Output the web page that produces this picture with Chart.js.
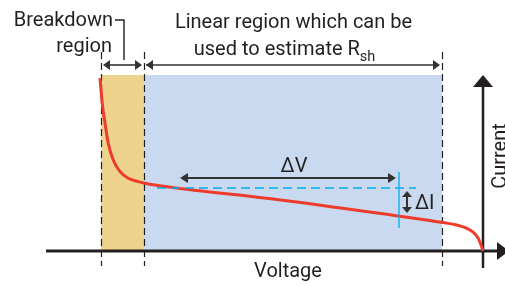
<!DOCTYPE html>
<html>
<head>
<meta charset="utf-8">
<script src="https://cdn.jsdelivr.net/npm/chart.js@4.4.1/dist/chart.umd.min.js"></script>
<style>
  html, body { margin: 0; padding: 0; background: #fff; }
  #wrap { width: 505px; height: 286px; position: relative; }
</style>
</head>
<body>
<div id="wrap"><canvas id="ivChart"></canvas></div>
<script>
// I-V curve (arbitrary units: voltage on x, current on y)
var curveV = [-19.15, -19.04, -18.9, -18.74, -18.49, -18.15, -17.74, -17.24, -16.9, -16.4, -15.15, -10.5, -4.25, -2.65, -1.99, -1.32, -0.82, -0.49, -0.24, -0.07, 0];
var curveI = [8.64, 7.4, 6.4, 5.4, 4.55, 3.97, 3.64, 3.47, 3.39, 3.3, 3.13, 2.6, 1.75, 1.52, 1.42, 1.3, 1.14, 0.94, 0.64, 0.22, 0];

// region edges: breakdown start, linear start, linear end
var regionEdges = [-19.1, -16.95, -2.05];
var regionTop = 8.8;

// delta V / delta I construction
var deltaV = [-15.15, -4.35];
var deltaVLevel = 3.65;
var refLineV = [-16.3, -3.35];
var refLineI = 3.15;
var deltaIMark = -4.2;
var deltaIRange = [3.0, 1.9];

var labels = {
  breakdown: ["Breakdown", "region"],
  linear: ["Linear region which can be", "used to estimate R"],
  sub: "sh",
  xAxis: "Voltage",
  yAxis: "Current",
  dV: "\u0394V",
  dI: "\u0394I"
};

var ink = "#231f20";
var font = "Roboto";
var big = "20px ";
var small = "14.5px ";

function arrow(ctx, x1, y1, x2, y2, headStart, headEnd, len, half) {
  var a = Math.atan2(y2 - y1, x2 - x1);
  var sx = x1, sy = y1, ex = x2, ey = y2;
  if (headStart) { sx += Math.cos(a) * len * 0.8; sy += Math.sin(a) * len * 0.8; }
  if (headEnd) { ex -= Math.cos(a) * len * 0.8; ey -= Math.sin(a) * len * 0.8; }
  ctx.beginPath();
  ctx.moveTo(sx, sy);
  ctx.lineTo(ex, ey);
  ctx.stroke();
  function head(tx, ty, ang) {
    ctx.beginPath();
    ctx.moveTo(tx, ty);
    ctx.lineTo(tx - Math.cos(ang) * len + Math.sin(ang) * half, ty - Math.sin(ang) * len - Math.cos(ang) * half);
    ctx.lineTo(tx - Math.cos(ang) * len - Math.sin(ang) * half, ty - Math.sin(ang) * len + Math.cos(ang) * half);
    ctx.closePath();
    ctx.fill();
  }
  if (headEnd) head(x2, y2, a);
  if (headStart) head(x1, y1, a + Math.PI);
}

var diagram = {
  id: "diagram",
  beforeDatasetsDraw: function (chart) {
    var ctx = chart.ctx, xs = chart.scales.x, ys = chart.scales.y;
    var px = function (v) { return xs.getPixelForValue(v); };
    var py = function (i) { return ys.getPixelForValue(i); };
    ctx.save();
    // shaded regions
    ctx.fillStyle = "#edd38b";
    ctx.fillRect(px(regionEdges[0]), py(regionTop), px(regionEdges[1]) - px(regionEdges[0]), py(0) - py(regionTop));
    ctx.fillStyle = "#c9daf0";
    ctx.fillRect(px(regionEdges[1]), py(regionTop), px(regionEdges[2]) - px(regionEdges[1]), py(0) - py(regionTop));

    // dashed region boundaries
    ctx.strokeStyle = ink;
    ctx.lineWidth = 1.2;
    ctx.setLineDash([7, 4]);
    regionEdges.forEach(function (v) {
      ctx.beginPath();
      ctx.moveTo(Math.round(px(v)) + 0.5, py(9.95));
      ctx.lineTo(Math.round(px(v)) + 0.5, py(-0.75));
      ctx.stroke();
    });
    ctx.setLineDash([]);

    // axes
    ctx.strokeStyle = ink;
    ctx.fillStyle = ink;
    ctx.lineWidth = 3;
    arrow(ctx, px(-21.85), py(0), px(1.3), py(0), false, true, 12, 9);
    ctx.lineWidth = 2.5;
    arrow(ctx, px(0), py(-0.85), px(0), py(8.8), false, true, 12, 10);
    ctx.restore();
  },
  afterDatasetsDraw: function (chart) {
    var ctx = chart.ctx, xs = chart.scales.x, ys = chart.scales.y;
    var px = function (v) { return xs.getPixelForValue(v); };
    var py = function (i) { return ys.getPixelForValue(i); };
    ctx.save();

    // blue reference lines
    ctx.strokeStyle = "#00aeef";
    ctx.lineWidth = 1.3;
    ctx.setLineDash([9, 5]);
    ctx.beginPath();
    ctx.moveTo(px(refLineV[0]), py(refLineI));
    ctx.lineTo(px(refLineV[1]), py(refLineI));
    ctx.stroke();
    ctx.setLineDash([]);
    ctx.beginPath();
    ctx.moveTo(px(deltaIMark), py(3.95));
    ctx.lineTo(px(deltaIMark), py(1.15));
    ctx.stroke();

    // dimension arrows
    ctx.strokeStyle = "#333";
    ctx.fillStyle = "#333";
    ctx.lineWidth = 2;
    arrow(ctx, px(deltaV[0]), py(deltaVLevel), px(deltaV[1]), py(deltaVLevel), true, true, 8, 5);
    arrow(ctx, px(deltaIMark + 0.4), py(deltaIRange[0]), px(deltaIMark + 0.4), py(deltaIRange[1]), true, true, 6, 5);

    ctx.lineWidth = 1.6;
    arrow(ctx, px(-19.0), py(9.3), px(-17.05), py(9.3), true, true, 7, 5);
    arrow(ctx, px(-16.85), py(9.3), px(-2.15), py(9.3), false, true, 7, 5);
    arrow(ctx, px(-16.85), py(9.3), px(-16.6), py(9.3), true, false, 7, 5);

    // bracket to "Breakdown"
    ctx.strokeStyle = ink;
    ctx.lineWidth = 1.4;
    ctx.beginPath();
    ctx.moveTo(px(-18.4), py(11.55));
    ctx.lineTo(px(-17.95), py(11.55));
    ctx.lineTo(px(-17.95), py(9.55));
    ctx.stroke();

    // text
    ctx.fillStyle = ink;
    ctx.font = big + font;
    ctx.textBaseline = "alphabetic";
    ctx.textAlign = "right";
    ctx.fillText(labels.breakdown[0], px(-18.5), py(11.25));
    ctx.fillText(labels.breakdown[1], px(-18.55), py(9.95));

    ctx.textAlign = "center";
    ctx.fillText(labels.linear[0], px(-9.475), py(11.15));
    var w1 = ctx.measureText(labels.linear[1]).width;
    ctx.font = small + font;
    var w2 = ctx.measureText(labels.sub).width;
    var left = px(-9.925) - (w1 + w2) / 2;
    ctx.textAlign = "left";
    ctx.font = big + font;
    ctx.fillText(labels.linear[1], left, py(9.8));
    ctx.font = small + font;
    ctx.fillText(labels.sub, left + w1, py(9.51));

    ctx.font = big + font;
    ctx.textAlign = "center";
    ctx.fillText(labels.dV, px(-9.45), py(3.975));
    ctx.fillText(labels.xAxis, px(-9.75), py(-1.3));
    ctx.textAlign = "left";
    ctx.fillText(labels.dI, px(-3.4), py(2.1));

    ctx.translate(px(1.125), py(4.75));
    ctx.rotate(-Math.PI / 2);
    ctx.textAlign = "center";
    ctx.fillText(labels.yAxis, 0, 0);
    ctx.restore();
  }
};

var ctx = document.getElementById("ivChart");
var myChart = new Chart(ctx, {
  type: "scatter",
  data: {
    datasets: [
      {
        label: "I-V",
        data: curveV.map(function (v, k) { return { x: v, y: curveI[k] }; }),
        showLine: true,
        borderColor: "#ef3b2c",
        borderWidth: 3,
        pointRadius: 0,
        cubicInterpolationMode: "monotone",
        clip: false
      }
    ]
  },
  options: {
    responsive: true,
    maintainAspectRatio: false,
    animation: false,
    layout: { padding: { left: 43, right: 2, top: 11, bottom: 15 } },
    scales: {
      x: { type: "linear", min: -22, max: 1, display: false },
      y: { type: "linear", min: -1, max: 12, display: false }
    },
    plugins: {
      legend: { display: false },
      tooltip: { enabled: false }
    }
  },
  plugins: [diagram]
});
</script>
</body>
</html>
